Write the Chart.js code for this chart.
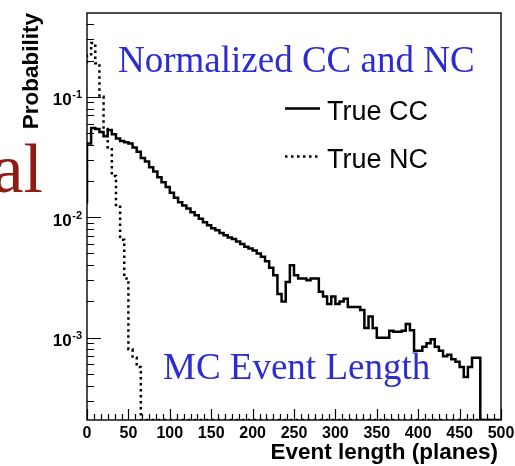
<!DOCTYPE html>
<html>
<head>
<meta charset="utf-8">
<title>MC Event Length</title>
<script src="https://cdn.jsdelivr.net/npm/chart.js@4.4.1/dist/chart.umd.min.js"></script>
<style>
  html, body { margin: 0; padding: 0; background: #ffffff; }
  #wrap { width: 515px; height: 466px; position: relative; }
  canvas { display: block; }
</style>
</head>
<body>
<div id="wrap"><canvas id="chart" width="515" height="466"></canvas></div>
<script>
// Lower edge of each 5-plane bin of the event-length histogram
const planes = [
    0,   5,  10,  15,  20,  25,  30,  35,  40,  45,
   50,  55,  60,  65,  70,  75,  80,  85,  90,  95,
  100, 105, 110, 115, 120, 125, 130, 135, 140, 145,
  150, 155, 160, 165, 170, 175, 180, 185, 190, 195,
  200, 205, 210, 215, 220, 225, 230, 235, 240, 245,
  250, 255, 260, 265, 270, 275, 280, 285, 290, 295,
  300, 305, 310, 315, 320, 325, 330, 335, 340, 345,
  350, 355, 360, 365, 370, 375, 380, 385, 390, 395,
  400, 405, 410, 415, 420, 425, 430, 435, 440, 445,
  450, 455, 460, 465, 470, 475, 480, 485, 490, 495
];

// Normalised probability per bin, charged-current events
const trueCC = [
  0.013,   0.041,   0.055,   0.054,   0.051,   0.047,   0.053,   0.049,   0.045,   0.043,
  0.042,   0.041,   0.038,   0.035,   0.031,   0.029,   0.026,   0.024,   0.0215,  0.0195,
  0.0178,  0.016,   0.0145,  0.0133,  0.0125,  0.0118,  0.011,   0.0104,  0.0097,  0.0091,
  0.0086,  0.0081,  0.0078,  0.0074,  0.0071,  0.0068,  0.0066,  0.0063,  0.006,   0.0057,
  0.0055,  0.0053,  0.005,   0.0047,  0.0043,  0.0038,  0.0033,  0.0023,  0.002,   0.0029,
  0.004,   0.0033,  0.0031,  0.0031,  0.003,   0.0031,  0.0031,  0.0024,  0.0022,  0.0019,
  0.0022,  0.0019,  0.002,   0.0021,  0.0018,  0.0018,  0.0018,  0.0017,  0.0012,  0.0015,
  0.0012,  0.001,   0.001,   0.001,   0.00114, 0.00112, 0.00112, 0.00114, 0.0013,  0.00115,
  0.00078, 0.00078, 0.00084, 0.0009,  0.00097, 0.00084, 0.00078, 0.0007,  0.00072, 0.00066,
  0.00063, 0.00057, 0.00047, 0.00057, 0.00068, 0.00068, 0,       0,       0,       0
];

// Normalised probability per bin, neutral-current events
const trueNC = [
  0.19,    0.22,    0.28,    0.19,    0.10,    0.054,   0.038,   0.022,   0.0122,  0.0065,
  0.0031,  0.0008,  0.00068, 0.00057, 0,       0,       0,       0,       0,       0,
  0, 0, 0, 0, 0, 0, 0, 0, 0, 0,
  0, 0, 0, 0, 0, 0, 0, 0, 0, 0,
  0, 0, 0, 0, 0, 0, 0, 0, 0, 0,
  0, 0, 0, 0, 0, 0, 0, 0, 0, 0,
  0, 0, 0, 0, 0, 0, 0, 0, 0, 0,
  0, 0, 0, 0, 0, 0, 0, 0, 0, 0,
  0, 0, 0, 0, 0, 0, 0, 0, 0, 0,
  0, 0, 0, 0, 0, 0, 0, 0, 0, 0
];

// Axis tick labels
const xTickValues = [0, 50, 100, 150, 200, 250, 300, 350, 400, 450, 500];
const yTickValues = [0.001, 0.01, 0.1];
const yTickExponents = ['-3', '-2', '-1'];

const BIN_WIDTH = 5;
const X_MIN = 0, X_MAX = 500;
const Y_MIN = 2.07e-4, Y_MAX = 0.497;

// Step-histogram points: one per bin lower edge, plus the closing upper edge.
// Empty bins sit on the floor of the log axis.
function histogramPoints(values) {
  const pts = planes.map((p, i) => ({ x: p, y: values[i] > 0 ? values[i] : Y_MIN }));
  const last = pts[pts.length - 1];
  pts.push({ x: planes[planes.length - 1] + BIN_WIDTH, y: last.y });
  return pts;
}

const SANS = '"Liberation Sans", Arial, Helvetica, sans-serif';
const SERIF = '"Liberation Serif", "Times New Roman", serif';

// Frame, inward ticks, tick labels, axis titles, legend and slide captions
const framePlugin = {
  id: 'frameAndText',
  afterDraw(chart) {
    const ctx = chart.ctx;
    const { left, right, top, bottom } = chart.chartArea;
    const xs = chart.scales.x, ys = chart.scales.y;
    ctx.save();

    // frame
    ctx.strokeStyle = '#000';
    ctx.lineWidth = 1.4;
    ctx.strokeRect(left, top, right - left, bottom - top);

    // x ticks: majors every 50, five minors in between
    ctx.lineWidth = 1.2;
    ctx.beginPath();
    for (let i = 0; i < xTickValues.length; i++) {
      const px = Math.round(xs.getPixelForValue(xTickValues[i])) + 0.5;
      ctx.moveTo(px, bottom); ctx.lineTo(px, bottom - 11);
      if (i < xTickValues.length - 1) {
        const step = (xTickValues[i + 1] - xTickValues[i]) / 6;
        for (let k = 1; k < 6; k++) {
          const mx = Math.round(xs.getPixelForValue(xTickValues[i] + k * step)) + 0.5;
          ctx.moveTo(mx, bottom); ctx.lineTo(mx, bottom - 6);
        }
      }
    }
    // y ticks: decades long, 2..9 short
    for (let e = -4; e <= 0; e++) {
      for (let m = 1; m <= 9; m++) {
        const v = m * Math.pow(10, e);
        if (v < Y_MIN || v > Y_MAX) continue;
        const py = Math.round(ys.getPixelForValue(v)) + 0.5;
        ctx.moveTo(left, py); ctx.lineTo(left + (m === 1 ? 14 : 7), py);
      }
    }
    ctx.stroke();

    // x tick labels
    ctx.fillStyle = '#000';
    ctx.font = 'bold 16px ' + SANS;
    ctx.textAlign = 'center';
    ctx.textBaseline = 'alphabetic';
    xTickValues.forEach(v => {
      ctx.fillText(String(v), xs.getPixelForValue(v), bottom + 18);
    });

    // y tick labels as 10 with a raised exponent
    yTickValues.forEach((v, i) => {
      const py = ys.getPixelForValue(v);
      ctx.font = 'bold 11px ' + SANS;
      ctx.textAlign = 'right';
      const expW = ctx.measureText(yTickExponents[i]).width;
      ctx.fillText(yTickExponents[i], 82, py + 1.5);
      ctx.font = 'bold 17px ' + SANS;
      ctx.fillText('10', 82 - expW - 0.5, py + 8.5);
    });

    // axis titles
    ctx.font = 'bold 22.5px ' + SANS;
    ctx.textAlign = 'right';
    ctx.fillText('Event length (planes)', 498, 459);
    ctx.save();
    ctx.translate(37.5, 13);
    ctx.rotate(-Math.PI / 2);
    ctx.fillText('Probability', 0, 0);
    ctx.restore();

    // legend
    ctx.lineWidth = 2.5;
    ctx.beginPath();
    ctx.moveTo(285, 108.5); ctx.lineTo(320, 108.5);
    ctx.stroke();
    ctx.setLineDash([2.5, 3.5]);
    ctx.beginPath();
    ctx.moveTo(285, 156.5); ctx.lineTo(320, 156.5);
    ctx.stroke();
    ctx.setLineDash([]);
    ctx.font = '27px ' + SANS;
    ctx.textAlign = 'left';
    ctx.fillText(chart.data.datasets[0].label, 327, 120);
    ctx.fillText(chart.data.datasets[1].label, 327, 168);

    // slide captions
    ctx.fillStyle = '#2c2cd0';
    ctx.font = '37px ' + SERIF;
    ctx.fillText('Normalized CC and NC', 118, 72);
    ctx.fillText('MC Event Length', 163, 379);
    ctx.fillStyle = '#8e1b14';
    ctx.font = '70px ' + SERIF;
    ctx.textAlign = 'right';
    ctx.fillText('al', 43, 192);

    ctx.restore();
  }
};

new Chart(document.getElementById('chart'), {
  type: 'line',
  data: {
    datasets: [
      {
        label: 'True CC',
        data: histogramPoints(trueCC),
        stepped: 'after',
        borderColor: '#000000',
        borderWidth: 2.5,
        pointRadius: 0,
        fill: false
      },
      {
        label: 'True NC',
        data: histogramPoints(trueNC),
        stepped: 'after',
        borderColor: '#000000',
        borderWidth: 2.5,
        borderDash: [2.5, 3.5],
        pointRadius: 0,
        fill: false
      }
    ]
  },
  options: {
    responsive: false,
    animation: false,
    devicePixelRatio: 1,
    layout: { padding: { left: 87, right: 14, top: 13, bottom: 46 } },
    scales: {
      x: { type: 'linear', min: X_MIN, max: X_MAX, display: false },
      y: { type: 'logarithmic', min: Y_MIN, max: Y_MAX, display: false }
    },
    plugins: {
      legend: { display: false },
      tooltip: { enabled: false }
    }
  },
  plugins: [framePlugin]
});
</script>
</body>
</html>
